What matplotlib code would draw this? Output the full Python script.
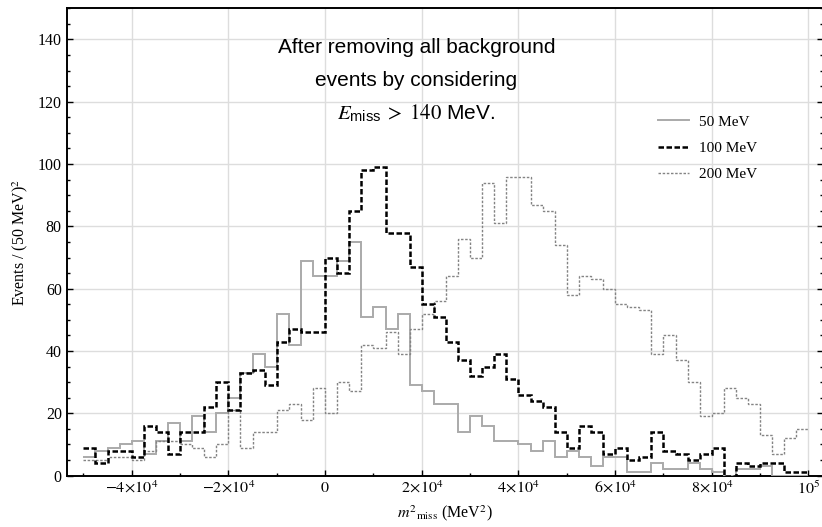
import matplotlib
matplotlib.use("Agg")
import matplotlib.pyplot as plt
import numpy as np
from matplotlib.ticker import MultipleLocator, FuncFormatter

plt.rcParams['font.family'] = ['Liberation Serif', 'DejaVu Serif']
plt.rcParams['mathtext.fontset'] = 'stix'

# histogram binning (MeV^2)
bin_lo, bin_hi, bin_width = -50000, 100000, 2500

# events per bin
counts_50 = [6, 8, 9, 10, 11, 7, 11, 17, 11, 19,
             14, 20, 25, 33, 39, 35, 52, 42, 69, 64,
             64, 69, 75, 51, 54, 47, 52, 29, 27, 23,
             23, 14, 19, 16, 11, 11, 10, 8, 11, 6,
             8, 6, 3, 6, 6, 1, 1, 4, 2, 2,
             4, 2, 1, 0, 2, 2, 3, 0, 0, 0]
counts_100 = [9, 4, 8, 8, 6, 16, 14, 7, 14, 14,
              22, 30, 21, 33, 34, 29, 43, 47, 46, 46,
              70, 65, 85, 98, 99, 78, 78, 67, 55, 51,
              43, 37, 32, 35, 39, 31, 26, 24, 22, 14,
              9, 16, 14, 7, 9, 5, 6, 14, 8, 7,
              5, 7, 9, 0, 4, 3, 4, 4, 1, 1]
counts_200 = [5, 5, 6, 6, 5, 8, 11, 11, 10, 9,
              6, 10, 21, 9, 14, 14, 21, 23, 18, 28,
              20, 30, 27, 42, 41, 46, 39, 47, 52, 56,
              64, 76, 70, 94, 81, 96, 96, 87, 85, 74,
              58, 64, 63, 60, 55, 54, 53, 39, 45, 37,
              30, 19, 20, 28, 25, 23, 13, 7, 12, 15]
series_labels = ['50 MeV', '100 MeV', '200 MeV']

note_lines = ['After removing all background',
              'events by considering',
              r'$E_{\mathregular{miss}}\;>\;140$ MeV.']

edges = np.arange(bin_lo, bin_hi + bin_width, bin_width)

fig = plt.figure(figsize=(8.22, 5.27), dpi=100)
ax = fig.add_axes((66.7 / 822, 51.4 / 527, 756.3 / 822, 467.3 / 527))

ax.stairs(counts_50, edges, baseline=None, color='#aaaaaa', lw=1.4,
          label=series_labels[0], zorder=3)
ax.stairs(counts_200, edges, baseline=None, color='#848484', lw=1.0,
          linestyle=(0, (1.8, 1.2)), label=series_labels[2], zorder=3)
ax.stairs(counts_100, edges, baseline=None, color='black', lw=1.8,
          linestyle=(0, (2.2, 1.0)), label=series_labels[1], zorder=4)

ax.set_xlim(-53450, 103000)
ax.set_ylim(0, 150)


def sci_label(x, pos):
    x = round(x)
    if x == 0:
        return '$0$'
    exp = int(np.floor(np.log10(abs(x))))
    mant = round(x / 10 ** exp)
    if mant == 1:
        return rf'$10^{{{exp}}}$'
    return rf'${mant}\!\times\!10^{{{exp}}}$'


ax.xaxis.set_major_locator(MultipleLocator(20000))
ax.xaxis.set_minor_locator(MultipleLocator(10000))
ax.xaxis.set_major_formatter(FuncFormatter(sci_label))
ax.yaxis.set_major_locator(MultipleLocator(20))
ax.yaxis.set_minor_locator(MultipleLocator(5))

ax.tick_params(which='both', direction='in', top=False, right=True,
               labelsize=11.5, width=1.0)
ax.tick_params(which='major', length=4)
ax.tick_params(which='minor', length=2)
for s in ax.spines.values():
    s.set_linewidth(1.4)

ax.grid(which='major', color='#dddddd', lw=1.0)
ax.set_axisbelow(True)

ax.set_xlabel(r'$m^2{}_{\mathrm{miss}}$ (MeV$^2$)', fontsize=11.5, labelpad=4)
ax.set_ylabel(r'Events / (50 MeV)$^2$', fontsize=11.5, labelpad=6)

# annotation block
for line, yb in zip(note_lines, [53, 86, 119]):
    fig.text(416.5 / 822, 1 - yb / 527, line, ha='center', va='baseline',
             fontsize=15, family=['Liberation Sans', 'DejaVu Sans'])

handles, labs = ax.get_legend_handles_labels()
order = [labs.index(l) for l in series_labels]
ax.legend([handles[i] for i in order], [labs[i] for i in order],
          loc='upper left', bbox_to_anchor=(658 / 822, 1 - 115 / 527),
          bbox_transform=fig.transFigure, frameon=False, borderpad=0,
          borderaxespad=0, fontsize=11, handlelength=2.0, handletextpad=0.7,
          labelspacing=0.82)

fig.savefig('out.png', dpi=100)
